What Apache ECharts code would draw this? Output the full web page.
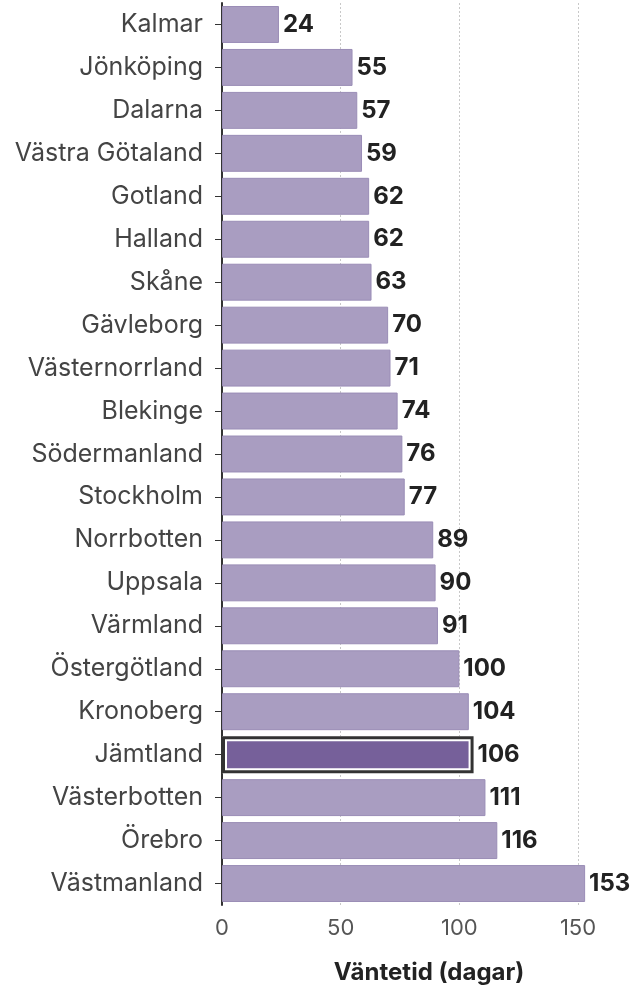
<!DOCTYPE html>
<html><head><meta charset="utf-8">
<script src="https://cdn.jsdelivr.net/npm/echarts@6/dist/echarts.min.js"></script>
<style>html,body{margin:0;padding:0;background:#fff}#c{width:641px;height:995px}</style>
</head><body><div id="c"></div>
<script>
const categories = ["Kalmar","Jönköping","Dalarna","Västra Götaland","Gotland","Halland","Skåne","Gävleborg","Västernorrland","Blekinge","Södermanland","Stockholm","Norrbotten","Uppsala","Värmland","Östergötland","Kronoberg","Jämtland","Västerbotten","Örebro","Västmanland"];
const values = [24,55,57,59,62,62,63,70,71,74,76,77,89,90,91,100,104,106,111,116,153];
const highlight = "Jämtland";
const xTicks = [0,50,100,150];
const axisName = "Väntetid (dagar)";

const FONT = "Inter, 'Noto Sans', sans-serif";
const mainData = values.map((v,i)=> categories[i]===highlight
  ? {value:v, itemStyle:{color:'#76609a', borderColor:'#ffffff', borderWidth:5}}
  : v);
const overlayData = values.map((v,i)=> categories[i]===highlight ? v : '-');

const chart = echarts.init(document.getElementById('c'), null, {renderer:'canvas'});
chart.setOption({
  animation:false,
  backgroundColor:'#fff',
  grid:{left:222, top:3, right:63, bottom:90, containLabel:false},
  xAxis:{type:'value', min:xTicks[0], max:xTicks[xTicks.length-1], interval:50,
    axisLine:{show:false}, axisTick:{show:false},
    axisLabel:{fontFamily:FONT, fontSize:22, color:'#555', margin:12},
    splitLine:{show:true, lineStyle:{color:'#c8c8c8', type:[2,2], width:1}},
    name:axisName, nameLocation:'middle', nameGap:56,
    nameTextStyle:{fontFamily:FONT, fontSize:24, fontWeight:'bold', color:'#222', padding:[0,0,0,58]}
  },
  yAxis:{type:'category', data:categories, inverse:true,
    axisLine:{show:true, lineStyle:{color:'#333', width:2}},
    axisTick:{show:true, alignWithLabel:true, length:7, lineStyle:{color:'#333', width:1}},
    axisLabel:{fontFamily:FONT, fontSize:25, color:'#444', margin:19},
    splitLine:{show:false}
  },
  series:[
    {type:'bar', data:mainData, barCategoryGap:'14%', z:2, clip:false,
      itemStyle:{color:'#a99dc1', borderColor:'#9a8db6', borderWidth:1},
      label:{show:true, position:'right', distance:4, fontFamily:FONT, fontSize:24, fontWeight:'bold', color:'#222'}
    },
    {type:'bar', data:overlayData, barGap:'-100%', barCategoryGap:'14%', z:3, silent:true, clip:false,
      itemStyle:{color:'rgba(0,0,0,0)', borderColor:'#333', borderWidth:3}
    }
  ]
});
</script></body></html>
